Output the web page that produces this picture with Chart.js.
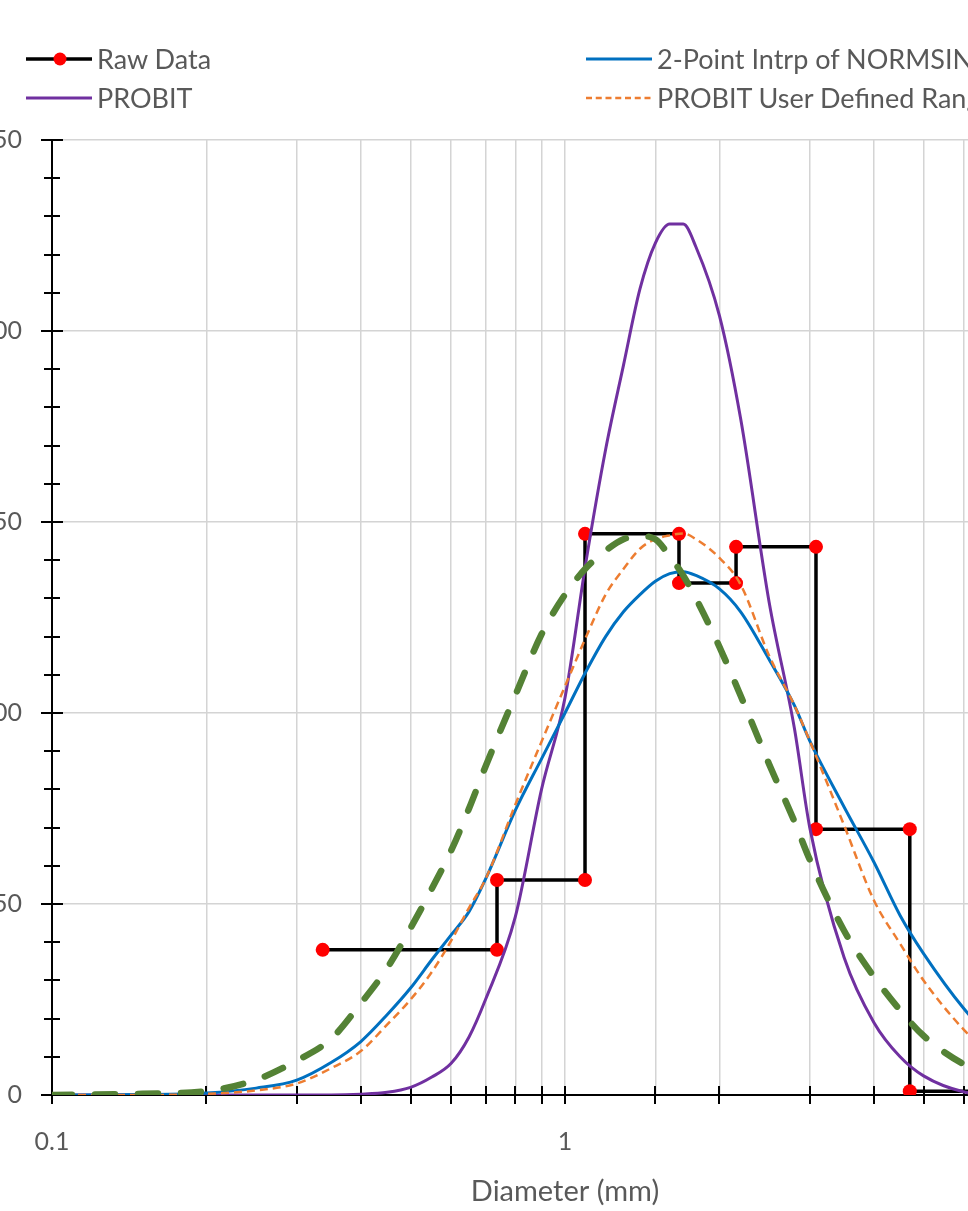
<!DOCTYPE html>
<html>
<head>
<meta charset="utf-8">
<script src="https://cdn.jsdelivr.net/npm/chart.js@4.4.1/dist/chart.umd.min.js"></script>
<style>
  html, body { margin: 0; padding: 0; background: #fff; overflow: hidden; width: 968px; height: 1211px; }
  #wrap { position: absolute; left: -60px; top: 0; width: 1200px; height: 1211px; }
  #legend { position: absolute; left: 0; top: 0; }
  .lg { position: absolute; display: flex; align-items: center; white-space: nowrap;
        font-family: Lato, 'Open Sans', sans-serif; font-size: 27px; color: #595959; }
  .lg svg { margin-right: 5px; }
</style>
</head>
<body>
<div id="wrap"><canvas id="chart" width="1200" height="1211"></canvas></div>
<div id="legend"></div>
<script>
// diameters (mm) where the fitted curves were read
const diameters = [0.1, 0.15, 0.2, 0.25, 0.3, 0.35, 0.4, 0.45, 0.5, 0.55, 0.6, 0.65, 0.7, 0.8, 0.9, 1.0, 1.1, 1.2, 1.3, 1.4, 1.5, 1.6, 1.7, 1.8, 2.0, 2.2, 2.5, 2.8, 3.0, 3.5, 4.0, 4.5, 5.0, 6.0, 7.0, 8.0, 10.0];
const probitVals = [0, 0, 0, 0, 0, 0, 0.2, 0.7, 2, 4.7, 8.3, 15.2, 25, 46.6, 80, 104, 140, 169, 191, 211, 223, 228, 228, 222, 204, 177, 129, 96, 70, 36, 19, 10, 5, 0.8, 0.1, 0, 0];
const normsinvVals = [0, 0.1, 0.5, 1.8, 3.9, 8.5, 14, 21, 28, 35.4, 41.9, 48, 56.5, 74.5, 88, 100, 111, 120, 126.5, 131, 134.5, 136.5, 137, 136, 132.5, 126.5, 114, 102, 92.7, 75.4, 61, 47, 37, 22.5, 13, 8.5, 3];
const userRangeVals = [0, 0, 0.3, 1.2, 3, 7, 11.5, 18.4, 25, 32.2, 40.4, 49, 56.5, 76, 92.5, 107, 120, 131, 137.7, 143, 145.5, 146.5, 147, 145.5, 140.6, 133.6, 115, 102, 92.7, 70.6, 51, 39.6, 30, 17, 9, 5, 1.3];
const fitVals = [0, 0.3, 1, 4, 9, 14.7, 24, 33.2, 43.7, 54, 64, 75, 86, 104.6, 120.6, 131, 138, 142.5, 145.5, 146.3, 145.5, 141, 136, 130, 117.3, 104.5, 86.6, 71.6, 61.6, 43, 31, 22.2, 15.5, 8, 4.5, 2.5, 0.7];

// raw (stepped) data
const rawX = [0.337, 0.737, 0.737, 1.094, 1.094, 1.668, 1.668, 2.155, 2.155, 3.085, 3.085, 4.70, 4.70, 6.7];
const rawY = [38, 38, 56.3, 56.3, 146.9, 146.9, 134, 134, 143.5, 143.5, 69.6, 69.6, 1, 1];

const yTicks = { min: 0, max: 250, step: 50, minor: 10 };

const toXY = (xs, ys) => xs.map((x, i) => ({ x: x, y: ys[i] }));

const fontFamily = "Lato, 'Open Sans', sans-serif";

// tick marks that cross the axis lines, like the spreadsheet chart
const crossTicks = {
  id: 'crossTicks',
  beforeDatasetsDraw(chart) {
    const { ctx, chartArea, scales } = chart;
    const left = chartArea.left, bottom = chartArea.bottom;
    ctx.save();
    ctx.strokeStyle = '#000';
    ctx.lineWidth = 2;
    ctx.beginPath();
    for (let v = yTicks.min; v <= yTicks.max; v += yTicks.minor) {
      const py = Math.round(scales.y.getPixelForValue(v));
      const len = v % yTicks.step === 0 ? 11 : 8;
      ctx.moveTo(left - len, py);
      ctx.lineTo(left + len, py);
    }
    scales.x.ticks.forEach(t => {
      const px = Math.round(scales.x.getPixelForValue(t.value));
      ctx.moveTo(px, bottom - 9);
      ctx.lineTo(px, bottom + 9);
    });
    ctx.stroke();
    ctx.restore();
  }
};

const chart = new Chart(document.getElementById('chart'), {
  type: 'scatter',
  data: {
    datasets: [
      { label: 'PROBIT Fit', data: toXY(diameters, fitVals), showLine: true, borderColor: '#548235',
        borderWidth: 6.5, borderDash: [20, 23], borderCapStyle: 'round', pointRadius: 0, cubicInterpolationMode: 'monotone' },
      { label: 'PROBIT User Defined Range', data: toXY(diameters, userRangeVals), showLine: true, borderColor: '#ED7D31',
        borderWidth: 2.5, borderDash: [8, 5], pointRadius: 0, cubicInterpolationMode: 'monotone' },
      { label: '2-Point Intrp of NORMSINV', data: toXY(diameters, normsinvVals), showLine: true, borderColor: '#0070C0',
        borderWidth: 3, pointRadius: 0, cubicInterpolationMode: 'monotone' },
      { label: 'PROBIT', data: toXY(diameters, probitVals), showLine: true, borderColor: '#7030A0',
        borderWidth: 3, pointRadius: 0, cubicInterpolationMode: 'monotone' },
      { label: 'Raw Data', data: toXY(rawX, rawY), showLine: true, borderColor: '#000',
        borderWidth: 3.5, pointRadius: 7, pointBackgroundColor: '#FF0000', pointBorderWidth: 0, tension: 0 }
    ]
  },
  options: {
    responsive: false,
    animation: false,
    devicePixelRatio: 1,
    layout: { padding: { top: 140, right: 62, left: 0, bottom: 0 } },
    plugins: { legend: { display: false }, tooltip: { enabled: false } },
    scales: {
      x: {
        type: 'logarithmic',
        min: 0.1,
        max: 10,
        afterFit: s => { s.height = 116; },
        border: { color: '#000', width: 2 },
        grid: { color: '#d4d4d4', lineWidth: 1.5, drawTicks: false },
        ticks: {
          autoSkip: false, maxRotation: 0, padding: 32, color: '#595959', font: { family: fontFamily, size: 25 },
          callback: v => {
            const l = Math.log10(v);
            return Math.abs(l - Math.round(l)) < 1e-9 ? String(v) : '';
          }
        },
        title: { display: true, text: 'Diameter (mm)', color: '#595959',
                 font: { family: fontFamily, size: 29 }, padding: { top: 0, bottom: 2 } }
      },
      y: {
        min: yTicks.min,
        max: yTicks.max,
        afterFit: s => { s.width = 112; },
        border: { color: '#000', width: 2 },
        grid: { color: '#d4d4d4', lineWidth: 1.5, drawTicks: false },
        ticks: { stepSize: yTicks.step, padding: 30, color: '#595959', font: { family: fontFamily, size: 25 } }
      }
    }
  },
  plugins: [crossTicks]
});

// html legend laid out in two columns like the original
const legendSpots = [
  { label: 'Raw Data', x: 26, y: 58 },
  { label: 'PROBIT', x: 26, y: 97 },
  { label: '2-Point Intrp of NORMSINV', x: 586, y: 58 },
  { label: 'PROBIT User Defined Range', x: 586, y: 97 },
  { label: 'PROBIT Fit', x: 1150, y: 58 }
];
const legendBox = document.getElementById('legend');
legendSpots.forEach(spot => {
  const ds = chart.data.datasets.find(d => d.label === spot.label);
  const dash = ds.borderDash ? `stroke-dasharray="${ds.borderDash.map(n => n * 0.75).join(' ')}"` : '';
  let svg = `<svg width="66" height="30"><line x1="0" y1="15" x2="66" y2="15" stroke="${ds.borderColor}" stroke-width="${Math.min(ds.borderWidth, 3.5)}" ${dash}/>`;
  if (ds.pointRadius) svg += `<circle cx="34" cy="15" r="6.5" fill="${ds.pointBackgroundColor}"/>`;
  svg += '</svg>';
  const div = document.createElement('div');
  div.className = 'lg';
  div.style.left = spot.x + 'px';
  div.style.top = (spot.y - 16) + 'px';
  div.innerHTML = svg + '<span>' + ds.label + '</span>';
  legendBox.appendChild(div);
});
</script>
</body>
</html>
